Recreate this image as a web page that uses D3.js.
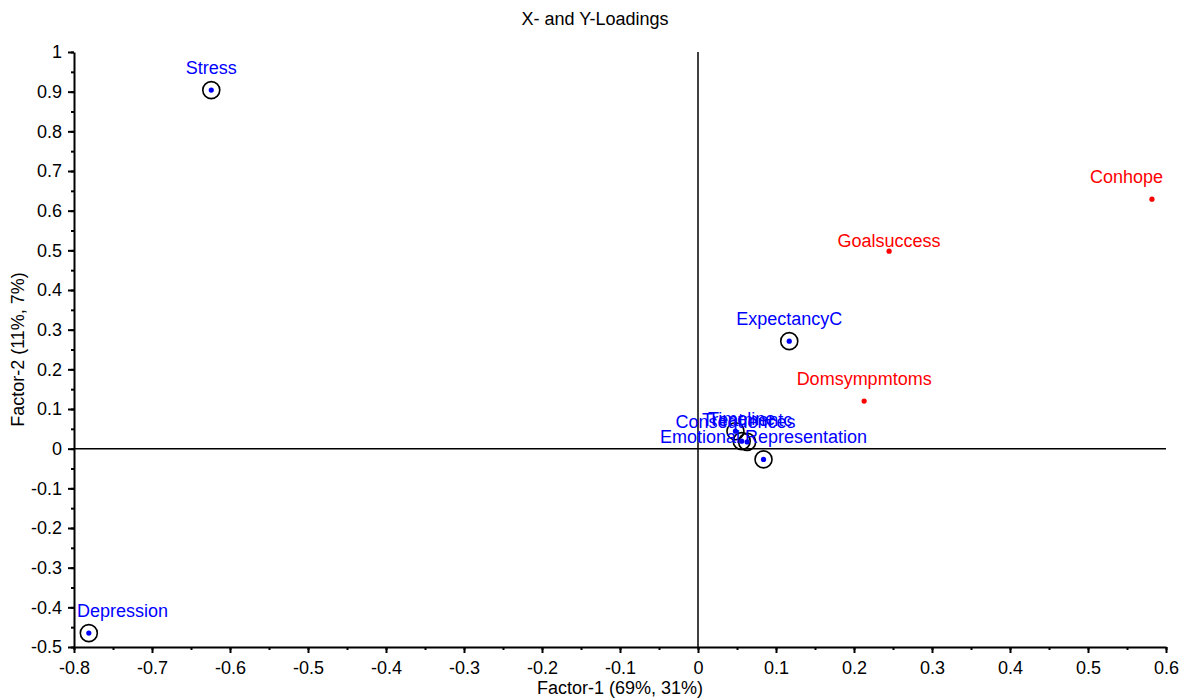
<!DOCTYPE html>
<html><head><meta charset="utf-8">
<script src="https://cdn.jsdelivr.net/npm/d3@7"></script>
<style>
body{margin:0;background:#fff;}
text{font-family:"Liberation Sans",Arial,sans-serif;}
</style></head>
<body><svg id="c" width="1185" height="698"></svg>
<script>
// X-loadings (predictors)
const xNames = ["Stress","Depression","ExpectancyC","Consequences","Timeline","Treatmentc","Emotional Representation"];
const xF1 = [-0.624,-0.781,0.117,0.048,0.056,0.063,0.084];
const xF2 = [0.904,-0.465,0.271,0.044,0.019,0.017,-0.027];
// Y-loadings (responses)
const yNames = ["Conhope","Goalsuccess","Domsympmtoms"];
const yF1 = [0.582,0.245,0.213];
const yF2 = [0.629,0.498,0.120];
// tick labels
const xTicks = [-0.8,-0.7,-0.6,-0.5,-0.4,-0.3,-0.2,-0.1,0,0.1,0.2,0.3,0.4,0.5,0.6];
const yTicks = [-0.5,-0.4,-0.3,-0.2,-0.1,0,0.1,0.2,0.3,0.4,0.5,0.6,0.7,0.8,0.9,1];
// label layout shifts (pixels, extra downward shift of label)
const xLabelShift = [0,0,0,13,0,0,0];
const yLabelShift = [0,12,0];

const svg = d3.select("#c");
const L=74,R=1166,T=52,B=647;
const x = d3.scaleLinear().domain([-0.8,0.6]).range([L,R]);
const y = d3.scaleLinear().domain([-0.5,1]).range([B,T]);
const fmt = d => String(+d.toFixed(1));

const minorX = d3.range(-0.8,0.6001,0.05).map(v=>+v.toFixed(2));
const minorY = d3.range(-0.5,1.0001,0.05).map(v=>+v.toFixed(2));

// minor ticks
svg.append("g").attr("transform",`translate(0,${B})`)
  .call(d3.axisBottom(x).tickValues(minorX).tickSize(3).tickFormat(""))
  .call(g=>g.select(".domain").remove())
  .selectAll("line").attr("stroke","#000").attr("stroke-width",2);
svg.append("g").attr("transform",`translate(${L},0)`)
  .call(d3.axisLeft(y).tickValues(minorY).tickSize(3).tickFormat(""))
  .call(g=>g.select(".domain").remove())
  .selectAll("line").attr("stroke","#000").attr("stroke-width",2);

// major axes
const gx = svg.append("g").attr("transform",`translate(0,${B})`)
  .call(d3.axisBottom(x).tickValues(xTicks).tickSize(6).tickSizeOuter(0).tickPadding(8).tickFormat(fmt));
const gy = svg.append("g").attr("transform",`translate(${L},0)`)
  .call(d3.axisLeft(y).tickValues(yTicks).tickSize(6).tickSizeOuter(0).tickPadding(6).tickFormat(fmt));
[gx,gy].forEach(g=>{
  g.select(".domain").attr("stroke","#000").attr("stroke-width",2);
  g.selectAll("line").attr("stroke","#000").attr("stroke-width",2);
  g.selectAll("text").attr("font-size",18).attr("fill","#000").attr("font-family","Liberation Sans, Arial, sans-serif");
});

// zero lines
svg.append("line").attr("x1",x(0)).attr("x2",x(0)).attr("y1",T).attr("y2",B).attr("stroke","#000").attr("stroke-width",1.5);
svg.append("line").attr("x1",L).attr("x2",R).attr("y1",y(0)).attr("y2",y(0)).attr("stroke","#000").attr("stroke-width",1.5);

// keep labels inside plot area
function clampLabels(sel){
  sel.each(function(){
    const w = this.getComputedTextLength();
    let cx = +this.getAttribute("x");
    cx = Math.max(L+3+w/2, Math.min(R-3-w/2, cx));
    this.setAttribute("x", cx);
  });
}

// X-loadings: circles + blue dots
const xd = xNames.map((n,i)=>({n,a:xF1[i],b:xF2[i],s:xLabelShift[i]}));
const gX = svg.append("g");
gX.selectAll("circle.ring").data(xd).join("circle").attr("class","ring")
  .attr("cx",d=>x(d.a)).attr("cy",d=>y(d.b)).attr("r",8.5)
  .attr("fill","none").attr("stroke","#000").attr("stroke-width",1.6);
gX.selectAll("circle.dot").data(xd).join("circle").attr("class","dot")
  .attr("cx",d=>x(d.a)).attr("cy",d=>y(d.b)).attr("r",2.6).attr("fill","#0000ff");
gX.selectAll("text").data(xd).join("text")
  .attr("x",d=>x(d.a)).attr("y",d=>y(d.b)-16+d.s)
  .attr("text-anchor","middle").attr("font-size",18).attr("fill","#0000ff").text(d=>d.n)
  .call(clampLabels);

// Y-loadings: red dots
const yd = yNames.map((n,i)=>({n,a:yF1[i],b:yF2[i],s:yLabelShift[i]}));
const gY = svg.append("g");
gY.selectAll("circle").data(yd).join("circle")
  .attr("cx",d=>x(d.a)).attr("cy",d=>y(d.b)).attr("r",2.6).attr("fill","#ff0000");
gY.selectAll("text").data(yd).join("text")
  .attr("x",d=>x(d.a)).attr("y",d=>y(d.b)-16+d.s)
  .attr("text-anchor","middle").attr("font-size",18).attr("fill","#ff0000").text(d=>d.n)
  .call(clampLabels);

// titles
svg.append("text").attr("x",595).attr("y",25).attr("text-anchor","middle").attr("font-size",18).attr("fill","#000").text("X- and Y-Loadings");
svg.append("text").attr("x",(L+R)/2).attr("y",694).attr("text-anchor","middle").attr("font-size",18).attr("fill","#000").text("Factor-1 (69%, 31%)");
svg.append("text").attr("transform",`translate(24,${(T+B)/2}) rotate(-90)`).attr("text-anchor","middle").attr("font-size",18).attr("fill","#000").text("Factor-2 (11%, 7%)");
</script></body></html>
